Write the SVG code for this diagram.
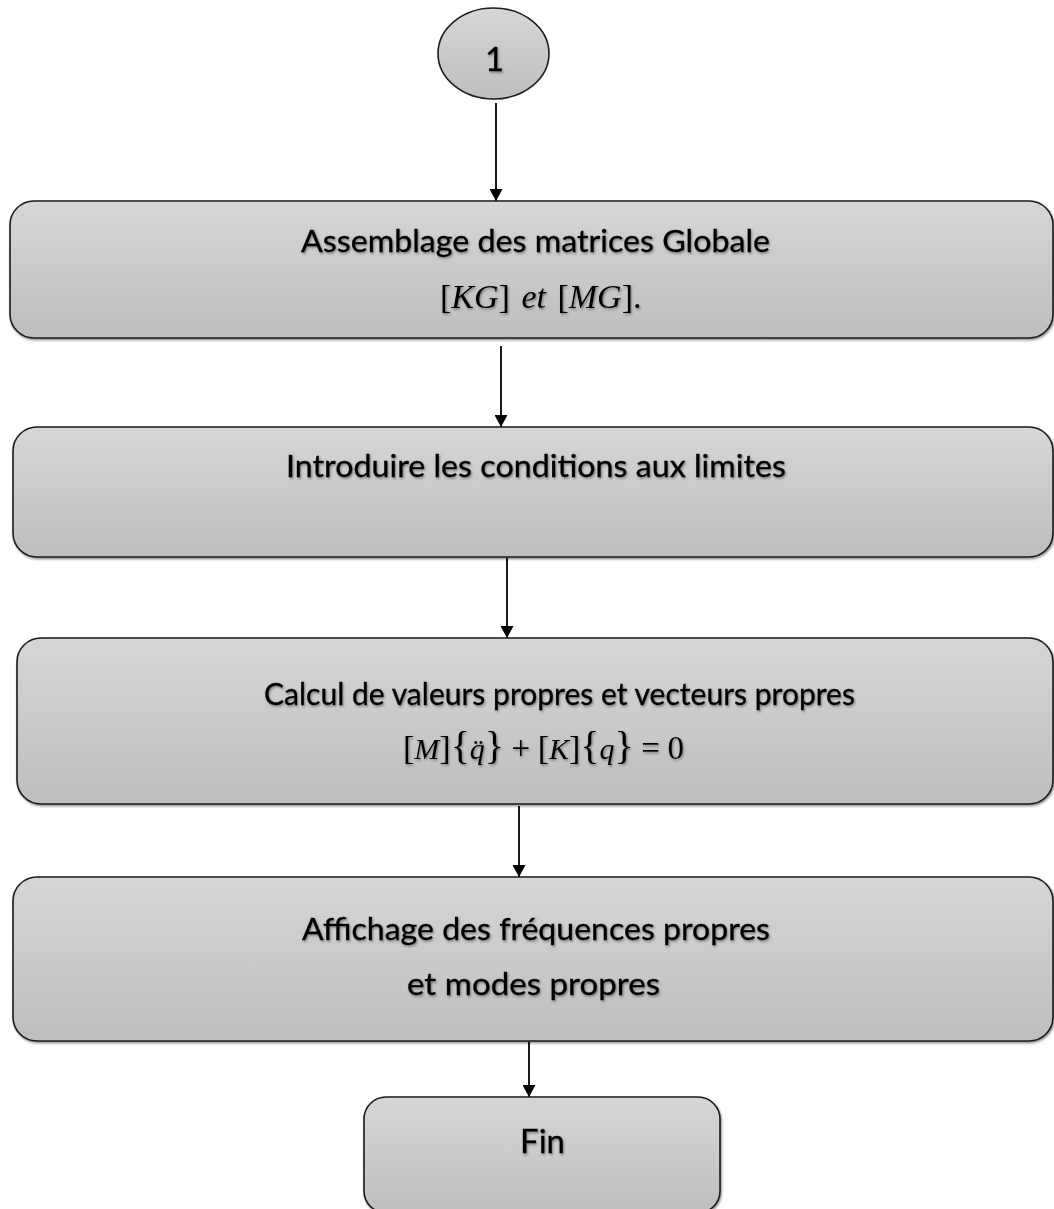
<svg xmlns="http://www.w3.org/2000/svg" width="1054" height="1209" viewBox="0 0 1054 1209">
  <style>
    .box { fill: url(#g); stroke: #1c1c1c; stroke-width: 1.6; filter: url(#bs); }
    .lbl { font-family: Lato, "Liberation Sans", sans-serif; font-size: 30px; fill: #000; stroke: #000; stroke-width: 0.35; filter: url(#ts); }
    .math { font-family: "Liberation Serif", serif; font-size: 31px; fill: #000; filter: url(#ts); }
    .it { font-style: italic; }
    .sq { font-size: 34px; }
    .br { font-size: 40px; }
    .op { font-size: 33px; }
    .conn { stroke: #000; stroke-width: 1.8; fill: none; marker-end: url(#ah); }
  </style>
  <defs>
    <linearGradient id="g" x1="0" y1="0" x2="0" y2="1">
      <stop offset="0" stop-color="#d6d6d6"/>
      <stop offset="1" stop-color="#bebebe"/>
    </linearGradient>
    <filter id="bs" x="-5%" y="-10%" width="110%" height="125%">
      <feDropShadow dx="1" dy="1.5" stdDeviation="1" flood-color="#000" flood-opacity="0.45"/>
    </filter>
    <filter id="ts" x="-5%" y="-20%" width="110%" height="150%">
      <feDropShadow dx="1" dy="1.5" stdDeviation="1" flood-color="#444" flood-opacity="0.6"/>
    </filter>
    <marker id="ah" viewBox="0 0 12 13" refX="12" refY="6.5" markerWidth="12" markerHeight="13" markerUnits="userSpaceOnUse" orient="auto">
      <path d="M0,0 L12,6.5 L0,13 Z" fill="#000"/>
    </marker>
  </defs>

  <g id="connectors">
    <line class="conn" x1="496" y1="103" x2="496" y2="201"/>
    <line class="conn" x1="501" y1="346" x2="501" y2="427"/>
    <line class="conn" x1="507" y1="558" x2="507" y2="638"/>
    <line class="conn" x1="519" y1="806" x2="519" y2="877"/>
    <line class="conn" x1="529" y1="1042" x2="529" y2="1097"/>
  </g>

  <g id="start">
    <ellipse cx="493.5" cy="53.5" rx="55.5" ry="45.5" fill="url(#g)" stroke="#1c1c1c" stroke-width="1.6"/>
    <text class="lbl" x="494.5" y="71" text-anchor="middle" style="font-size:33px">1</text>
  </g>

  <g id="assemblage">
    <rect class="box" x="10" y="201" width="1043" height="137" rx="24" ry="24"/>
    <text class="lbl" x="535.5" y="252" text-anchor="middle" textLength="469" lengthAdjust="spacingAndGlyphs">Assemblage des matrices Globale</text>
    <text class="math" x="440" y="308" style="font-size:34px; word-spacing:3px">[<tspan class="it">KG</tspan>] <tspan class="it">et</tspan> [<tspan class="it">MG</tspan>].</text>
  </g>

  <g id="conditions">
    <rect class="box" x="13" y="427" width="1040" height="130" rx="24" ry="24"/>
    <text class="lbl" x="536" y="477" text-anchor="middle" textLength="500" lengthAdjust="spacingAndGlyphs">Introduire les conditions aux limites</text>
  </g>

  <g id="calcul">
    <rect class="box" x="17" y="638" width="1036" height="166" rx="24" ry="24"/>
    <text class="lbl" x="559.5" y="705" text-anchor="middle" textLength="591" lengthAdjust="spacingAndGlyphs">Calcul de valeurs propres et vecteurs propres</text>
    <text class="math" x="403" y="759" style="font-size:30px"><tspan class="sq">[</tspan><tspan class="it">M</tspan><tspan class="sq">]</tspan><tspan class="br">{</tspan><tspan class="it">q̈</tspan><tspan class="br">}</tspan> <tspan class="op">+</tspan> <tspan class="sq">[</tspan><tspan class="it">K</tspan><tspan class="sq">]</tspan><tspan class="br">{</tspan><tspan class="it">q</tspan><tspan class="br">}</tspan> <tspan class="op">=</tspan> <tspan class="op">0</tspan></text>
  </g>

  <g id="affichage">
    <rect class="box" x="13" y="877" width="1040" height="164" rx="24" ry="24"/>
    <text class="lbl" x="536" y="940" text-anchor="middle" textLength="468" lengthAdjust="spacingAndGlyphs">Affichage des fréquences propres</text>
    <text class="lbl" x="533.5" y="995" text-anchor="middle" textLength="253" lengthAdjust="spacingAndGlyphs">et modes propres</text>
  </g>

  <g id="fin">
    <rect class="box" x="364" y="1097" width="356" height="116" rx="22" ry="22"/>
    <text class="lbl" x="542.5" y="1153" text-anchor="middle" style="font-size:33px">Fin</text>
  </g>
</svg>
